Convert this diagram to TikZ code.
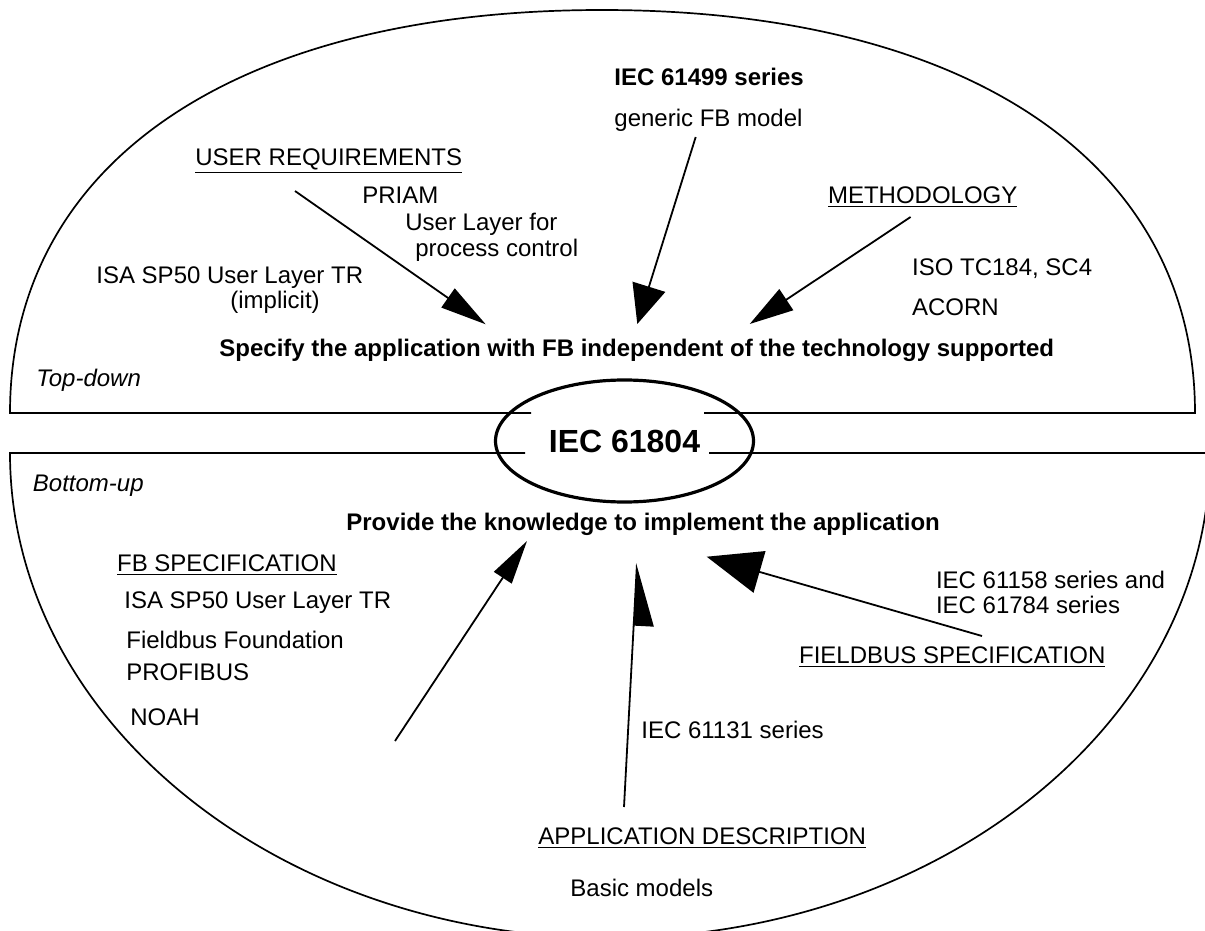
\documentclass[tikz,border=0pt]{standalone}
\usepackage{fontspec}
\setmainfont{Liberation Sans}
\usepackage{tikz}
\usetikzlibrary{
  shapes.geometric,
  arrows.meta,
  positioning,
  calc,
}

\begin{document}
\begin{tikzpicture}[
  x=0.5pt, y=-0.5pt,
  outline/.style={
    draw=black,
    line width=0.85pt,
  },
  core/.style={
    draw=black,
    ellipse,
    line width=1.6pt,
    minimum width=129pt,
    minimum height=61pt,
    inner sep=0pt,
    font=\fontsize{16}{19}\selectfont\bfseries,
  },
  lbl/.style={
    anchor=base west,
    inner sep=0pt,
    font=\fontsize{12}{14}\selectfont,
  },
  side/.style={
    lbl,
    font=\fontsize{12}{14}\selectfont\itshape,
  },
  goal/.style={
    lbl,
    font=\fontsize{12}{14}\selectfont\bfseries,
  },
  arr/.style 2 args={
    -{Triangle[length=#1, width=#2]},
    line width=0.9pt,
  },
  halfarr/.style 2 args={
    -{Triangle[right, length=#1, width=#2]},
    line width=0.9pt,
  },
]

\useasboundingbox (0,0) rectangle (1205,931);
\clip (0,0) rectangle (1205,931);

% =============================================================================
% Outline: top-down half, bottom-up half, centre ellipse
% =============================================================================
\draw[outline] (531,413) -- (10,413)
  .. controls (10,163) and (235,10) .. (602,10)
  .. controls (969,10) and (1195,163) .. (1195,413) -- (704,413);
\draw[outline] (525,453) -- (10,453)
  .. controls (10,721) and (279,938) .. (610,938)
  .. controls (941,938) and (1210,721) .. (1210,453) -- (709,453);

\node[core] (iec61804) at (624.5,441) {IEC 61804};

\node[side] (topdown) at (36,386.5) {Top-down};
\node[side] (bottomup) at (32.5,491.5) {Bottom-up};

% =============================================================================
% Top half
% =============================================================================
\node[lbl] (ureq) at (195,165.5) {\underline{USER REQUIREMENTS}};
\node[lbl] (priam) at (362,203.5) {PRIAM};
\node[lbl] (userlayer) at (405,230.5) {User Layer for};
\node[lbl] (procctrl) at (415,256.5) {process control};
\node[lbl] (isatop) at (96,283.5) {ISA SP50 User Layer TR};
\node[lbl] (implicit) at (230,308.5) {(implicit)};

\node[goal] (iec61499) at (614,85.5) {IEC 61499 series};
\node[lbl] (genfb) at (614,126.5) {generic FB model};

\node[lbl] (method) at (827.6,203.5) {\underline{METHODOLOGY}};
\node[lbl] (isotc) at (911.7,275.5) {ISO TC184, SC4};
\node[lbl] (acorn) at (911.7,315.5) {ACORN};

\node[goal] (specify) at (219,356.5)
  {Specify the application with FB independent of the technology supported};

\coordinate (ureq-tail) at (295,191);
\coordinate (ureq-tip) at (485.7,324.3);
\coordinate (genfb-tail) at (695.7,137);
\coordinate (genfb-tip) at (637.3,324);
\coordinate (method-tail) at (910.6,217);
\coordinate (method-tip) at (749.7,324);

\draw[arr={23pt}{11.5pt}] (ureq-tail) -- (ureq-tip);
\draw[arr={19.5pt}{17pt}] (genfb-tail) -- (genfb-tip);
\draw[arr={22pt}{12.5pt}] (method-tail) -- (method-tip);

% =============================================================================
% Bottom half
% =============================================================================
\node[goal] (provide) at (346,530.5)
  {Provide the knowledge to implement the application};

\node[lbl] (fbspec) at (116.7,571.5) {\underline{FB SPECIFICATION}};
\node[lbl] (isabot) at (124,608.5) {ISA SP50 User Layer TR};
\node[lbl] (ffound) at (126,648.5) {Fieldbus Foundation};
\node[lbl] (profibus) at (126,680.5) {PROFIBUS};
\node[lbl] (noah) at (130,725.5) {NOAH};

\node[lbl] (iec61158) at (935.6,588.5) {IEC 61158 series and};
\node[lbl] (iec61784) at (935.6,613.5) {IEC 61784 series};
\node[lbl] (fieldbus) at (798.7,663.5) {\underline{FIELDBUS SPECIFICATION}};

\node[lbl] (iec61131) at (641,738.5) {IEC 61131 series};
\node[lbl] (appdesc) at (538,844.5) {\underline{APPLICATION DESCRIPTION}};
\node[lbl] (basic) at (570,896.5) {Basic models};

\coordinate (fbspec-tail) at (395,741);
\coordinate (fbspec-tip) at (527,541);
\coordinate (appdesc-tail) at (624,807);
\coordinate (appdesc-tip) at (637,563);
\coordinate (fieldbus-tail) at (982,636);
\coordinate (fieldbus-tip) at (706.7,556.7);

\draw[arr={22pt}{10.5pt}] (fbspec-tail) -- (fbspec-tip);
\draw[halfarr={30pt}{20pt}] (appdesc-tail) -- (appdesc-tip);
\draw[arr={27.5pt}{21.5pt}] (fieldbus-tail) -- (fieldbus-tip);

\end{tikzpicture}
\end{document}
